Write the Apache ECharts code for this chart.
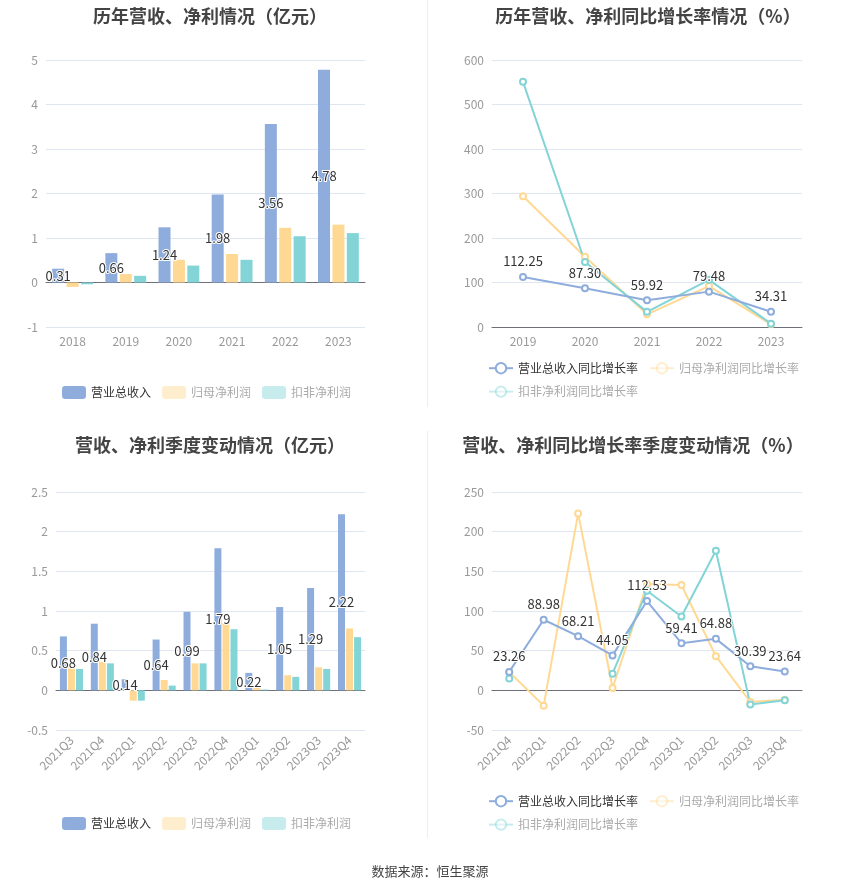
<!DOCTYPE html>
<html>
<head>
<meta charset="utf-8">
<script src="https://cdn.jsdelivr.net/npm/echarts@6/dist/echarts.min.js"></script>
<style>
html,body{margin:0;padding:0;background:#fff;}
#c{width:850px;height:891px;}
</style>
</head>
<body>
<div id="c"></div>
<script>
// ---- data ----
const years = ['2018','2019','2020','2021','2022','2023'];
const yearRevenue = [0.31, 0.66, 1.24, 1.98, 3.56, 4.78];
const yearNetProfit = [-0.10, 0.19, 0.51, 0.64, 1.23, 1.30];
const yearDeducted = [-0.04, 0.15, 0.38, 0.51, 1.04, 1.11];

const growthYears = ['2019','2020','2021','2022','2023'];
const yearRevenueGrowth = [112.25, 87.30, 59.92, 79.48, 34.31];
const yearNetProfitGrowth = [294, 158, 28.5, 92, 6];
const yearDeductedGrowth = [551, 146, 34, 106, 7.5];

const quarters = ['2021Q3','2021Q4','2022Q1','2022Q2','2022Q3','2022Q4','2023Q1','2023Q2','2023Q3','2023Q4'];
const qRevenue = [0.68, 0.84, 0.14, 0.64, 0.99, 1.79, 0.22, 1.05, 1.29, 2.22];
const qNetProfit = [0.29, 0.36, -0.13, 0.13, 0.34, 0.85, 0.04, 0.19, 0.29, 0.78];
const qDeducted = [0.27, 0.34, -0.13, 0.06, 0.34, 0.77, 0.01, 0.17, 0.27, 0.67];

const growthQuarters = ['2021Q4','2022Q1','2022Q2','2022Q3','2022Q4','2023Q1','2023Q2','2023Q3','2023Q4'];
const qRevenueGrowth = [23.26, 88.98, 68.21, 44.05, 112.53, 59.41, 64.88, 30.39, 23.64];
const qNetProfitGrowth = [23, -19.3, 223, 3, 134, 132.8, 43, -14.7, -11.8];
const qDeductedGrowth = [15, null, null, 21, 125.6, 93, 176, -18, -12.6];

const titles = ['历年营收、净利情况（亿元）','历年营收、净利同比增长率情况（%）','营收、净利季度变动情况（亿元）','营收、净利同比增长率季度变动情况（%）'];
const barNames = ['营业总收入','归母净利润','扣非净利润'];
const lineNames = ['营业总收入同比增长率','归母净利润同比增长率','扣非净利润同比增长率'];
const source = '数据来源：恒生聚源';

// ---- styles ----
const C = ['#8eaddc','#ffd993','#82d4d7'];
const FONT = '"Noto Sans CJK SC","Microsoft YaHei",sans-serif';

const chart = echarts.init(document.getElementById('c'));

function xAxis(gi, data, rotate){
  return {gridIndex: gi, type:'category', data: data, boundaryGap: true,
    axisLine:{onZero:true, lineStyle:{color:'#6e7079'}},
    axisTick:{alignWithLabel:true, lineStyle:{color:'#6e7079'}},
    axisLabel:{color:'#999', fontSize:12, rotate: rotate, margin: 8, fontFamily: FONT}};
}
function yAxis(gi, min, max, interval){
  return {gridIndex: gi, type:'value', min:min, max:max, interval:interval,
    axisLine:{show:false}, axisTick:{show:false},
    splitLine:{lineStyle:{color:'#e0e6f1'}},
    axisLabel:{color:'#999', fontSize:12, fontFamily: FONT}};
}
const fmt = p => (p.value == null ? '' : Number(p.value).toFixed(2));
const barLabel = {show:true, position:'inside', color:'#333', fontSize:13, fontFamily: FONT,
  textBorderColor:'#fff', textBorderWidth:2, formatter: fmt};
const lineLabel = {show:true, position:'top', color:'#333', fontSize:13, fontFamily: FONT,
  textBorderColor:'#fff', textBorderWidth:2, formatter: fmt};

function barSeries(gi, vals, bw, gap){
  return vals.map((v,i)=>({type:'bar', name:barNames[i], xAxisIndex:gi, yAxisIndex:gi, data:v,
    barWidth: bw, barGap: gap, itemStyle:{color:C[i]}, label: i===0 ? barLabel : {show:false}}));
}
function lineSeries(gi, vals){
  return vals.map((v,i)=>({type:'line', name:lineNames[i], xAxisIndex:gi, yAxisIndex:gi, data:v,
    symbol:'emptyCircle', symbolSize:6, connectNulls:false,
    lineStyle:{width:2, color:C[i]}, itemStyle:{color:C[i], borderWidth:2},
    label: i===0 ? lineLabel : {show:false}, z: i===0 ? 3 : 2}));
}
function legendData(names){
  return names.map((n,i)=> i===0 ? {name:n, textStyle:{color:'#333'}} :
    {name:n, itemStyle:{opacity:0.45}, lineStyle:{opacity:0.45}, textStyle:{color:'#aaa'}});
}
function legend(names, left, top, width){
  return {data: legendData(names), left:left, top:top, width:width, padding:0, itemWidth:24, itemHeight:13, itemGap:11,
    textStyle:{fontSize:12, fontFamily: FONT, color:'#333'}, selectedMode:false};
}

const option = {
  animation:false,
  textStyle:{fontFamily: FONT},
  title:[
    {text:titles[0], left:205, top:2, textAlign:'center', textStyle:{fontSize:18, fontWeight:'bold', color:'#444', fontFamily: FONT}},
    {text:titles[1], left:643, top:2, textAlign:'center', textStyle:{fontSize:18, fontWeight:'bold', color:'#444', fontFamily: FONT}},
    {text:titles[2], left:205, top:431, textAlign:'center', textStyle:{fontSize:18, fontWeight:'bold', color:'#444', fontFamily: FONT}},
    {text:titles[3], left:628, top:431, textAlign:'center', textStyle:{fontSize:18, fontWeight:'bold', color:'#444', fontFamily: FONT}},
    {text:source, left:425, top:860, textAlign:'center', textStyle:{fontSize:13, fontWeight:'normal', color:'#444', fontFamily: FONT}}
  ],
  grid:[
    {left:46, top:60, width:319, height:267},
    {left:492, top:60, width:310, height:267},
    {left:56, top:492, width:309, height:238},
    {left:492, top:492, width:310, height:238}
  ],
  xAxis:[ xAxis(0, years, 0), xAxis(1, growthYears, 0), xAxis(2, quarters, 45), xAxis(3, growthQuarters, 45) ],
  yAxis:[ yAxis(0,-1,5,1), yAxis(1,0,600,100), yAxis(2,-0.5,2.5,0.5), yAxis(3,-50,250,50) ],
  legend:[
    legend(barNames, 62, 386, 340),
    legend(lineNames, 488, 362, 330),
    legend(barNames, 62, 817, 340),
    legend(lineNames, 488, 795, 330)
  ],
  graphic:[
    {type:'line', shape:{x1:427.5, y1:0, x2:427.5, y2:407}, style:{stroke:'#eeeeee', lineWidth:1}},
    {type:'line', shape:{x1:427.5, y1:431, x2:427.5, y2:838}, style:{stroke:'#eeeeee', lineWidth:1}}
  ],
  series:[].concat(
    barSeries(0, [yearRevenue, yearNetProfit, yearDeducted], 12, '20%'),
    lineSeries(1, [yearRevenueGrowth, yearNetProfitGrowth, yearDeductedGrowth]),
    barSeries(2, [qRevenue, qNetProfit, qDeducted], 7, '15%'),
    lineSeries(3, [qRevenueGrowth, qNetProfitGrowth, qDeductedGrowth])
  )
};
chart.setOption(option);
</script>
</body>
</html>
